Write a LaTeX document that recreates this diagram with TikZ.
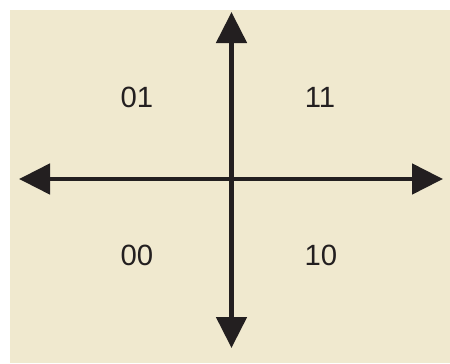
\documentclass[tikz,border=0pt]{standalone}
\usepackage{fontspec}
\setmainfont{Liberation Sans}
\usetikzlibrary{arrows.meta}
\definecolor{paper}{RGB}{240,233,207}
\definecolor{ink}{RGB}{35,31,32}

\begin{document}
\begin{tikzpicture}[x=0.03cm, y=-0.03cm,
    axis/.style={{Triangle[length=0.93cm,width=0.9cm]}-{Triangle[length=0.93cm,width=0.9cm]}, line width=4.2pt, ink},
    code/.style={text=ink, font=\fontsize{25}{30}\selectfont}]
  \useasboundingbox (0,0) rectangle (450,363);
  \fill[paper] (10,10) rectangle (450,363);
  \coordinate (top) at (231.5,12);
  \coordinate (bottom) at (231.5,348);
  \coordinate (left) at (19,179);
  \coordinate (right) at (443,179);
  \draw[axis] (bottom) -- (top);
  \draw[axis] (left) -- (right);
  \node[code] (c01) at (137,97) {01};
  \node[code] (c11) at (320,97) {11};
  \node[code] (c00) at (137,255) {00};
  \node[code] (c10) at (321,255) {10};
\end{tikzpicture}
\end{document}
